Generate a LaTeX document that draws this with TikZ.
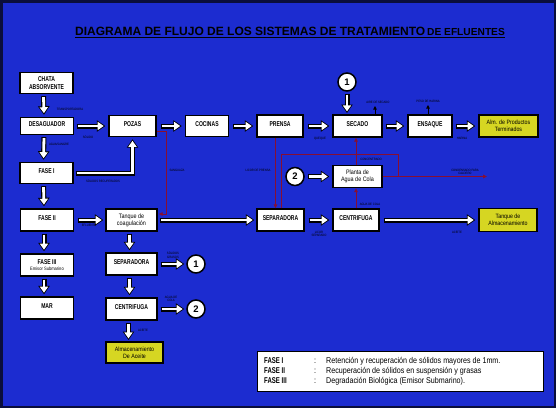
\documentclass[tikz,border=0pt]{standalone}
\usepackage{fontspec}
\setmainfont{Liberation Sans}
\newfontfamily\narrow[FakeStretch=0.85]{Liberation Sans}
\newfontfamily\narrowbold[FakeStretch=0.72]{Liberation Sans Bold}
\usetikzlibrary{arrows.meta}
\definecolor{bgblue}{RGB}{28,44,208}
\definecolor{framecol}{RGB}{10,14,60}
\definecolor{lineRed}{RGB}{135,15,50}
\definecolor{storeYellow}{RGB}{214,214,34}
\tikzset{
  box/.style={draw=black, line width=1.4pt, fill=white, inner sep=1pt, align=center,
    font=\narrowbold\fontsize{7}{7.5}\selectfont, minimum height=22pt},
  toptext/.style={text height=5pt, text depth=4pt},
  store/.style={box, fill=storeYellow, font=\narrow\fontsize{6.2}{7.2}\selectfont},
  num/.style={circle, draw=black, line width=1.5pt, fill=white, minimum size=18pt,
    inner sep=0pt, font=\bfseries\fontsize{9.5}{9.5}\selectfont},
  fat/.style={draw=white, line width=2.8pt, shorten >=1.6pt, shorten <=0.9pt,
    -{Triangle[length=6pt,width=8pt]},
    preaction={draw=black, line width=5pt, shorten >=0pt, shorten <=0pt,
      -{Triangle[length=8.5pt,width=11pt]}}},
  redline/.style={draw=lineRed, line width=0.9pt},
  redarrow/.style={redline, -{Triangle[length=4pt,width=3.5pt]}},
  smallarrow/.style={draw=black, line width=0.8pt, -{Triangle[length=3.5pt,width=3.5pt]}},
  tag/.style={font=\narrow\fontsize{3.2}{3.6}\selectfont, text=black, inner sep=0pt, align=center},
  legtext/.style={font=\narrow\fontsize{8.4}{9}\selectfont, text=black, inner sep=0pt, anchor=base west},
  legbold/.style={legtext, font=\narrowbold\fontsize{8.4}{9}\selectfont},
}
\begin{document}
\begin{tikzpicture}[x=1pt,y=-1pt]
% frame and background
\fill[framecol] (0,0) rectangle (556,408);
\fill[bgblue] (2.5,2.5) rectangle (553.5,405.5);
\useasboundingbox (0,0) rectangle (556,408);

% title
\node[anchor=base west, inner sep=0pt, text=black] (title) at (75,35)
  {\bfseries\fontsize{12}{12}\selectfont DIAGRAMA DE FLUJO DE LOS SISTEMAS DE TRATAMIENTO\,{\fontsize{10.2}{10}\selectfont DE EFLUENTES}};
\draw[black, line width=1pt] ([yshift=-2pt]title.base west) -- ([yshift=-2pt]title.base east);

% left column
\node[box, minimum width=53pt, minimum height=21pt] (chata) at (46.5,83) {CHATA\\ABSORVENTE};
\node[box, toptext, minimum width=53pt, minimum height=17pt] (desag) at (47,126) {DESAGUADOR};
\node[box, toptext, minimum width=53pt, minimum height=21pt] (fase1) at (46.5,173) {FASE I};
\node[box, toptext, minimum width=53pt] (fase2) at (47,220) {FASE II};
\node[box, minimum width=53pt] (fase3) at (47,265) {FASE III\\[-1pt]{\narrow\fontsize{4.8}{5}\selectfont Emisor Submarino}};
\node[box, toptext, minimum width=53pt] (mar) at (47,308) {MAR};

% main line
\node[box, toptext, minimum width=47pt, minimum height=21pt] (pozas) at (132.5,126) {POZAS};
\node[box, toptext, minimum width=43pt, minimum height=21pt] (cocinas) at (207,126) {COCINAS};
\node[box, toptext, minimum width=46pt] (prensa) at (280,126) {PRENSA};
\node[box, toptext, minimum width=49pt] (secado) at (357.5,126) {SECADO};
\node[box, toptext, minimum width=44pt] (ensaque) at (430,126) {ENSAQUE};
\node[store, minimum width=59pt] (almpt) at (508.5,126) {Alm. de Productos\\Terminados};

\node[num] (num1top) at (347,82) {1};
\node[num] (num2mid) at (295,176.5) {2};
\node[box, minimum width=49pt, font=\narrow\fontsize{6.4}{7.2}\selectfont] (planta) at (357.5,176.5) {Planta de\\Agua de Cola};

% oil line
\node[box, minimum width=51pt, font=\narrow\fontsize{6.4}{7.2}\selectfont] (tanque) at (131.5,220) {Tanque de\\coagulación};
\node[box, toptext, minimum width=47pt] (sepmid) at (280.5,220) {SEPARADORA};
\node[box, toptext, minimum width=46pt] (centmid) at (356,220) {CENTRIFUGA};
\node[store, minimum width=58pt, minimum height=23pt] (tanquealm) at (508,220) {Tanque de\\Almacenamiento};

\node[box, toptext, minimum width=51pt] (seplow) at (131.5,264) {SEPARADORA};
\node[num] (num1low) at (196,264) {1};
\node[box, toptext, minimum width=51pt] (centlow) at (131.5,309) {CENTRIFUGA};
\node[num] (num2low) at (196,309) {2};
\node[store, minimum width=57pt, minimum height=21pt] (almaceite) at (134.5,352.5) {Almacenamiento\\De Aceite};

% free ends
\coordinate (secin) at (347,113);
\coordinate (aceitein) at (128.5,340);
\coordinate (airout) at (375,106);
\coordinate (pesoout) at (428,105);
\coordinate (condout) at (487,176.5);

% white flow arrows
\draw[fat] ([shift={(-3,2)}]chata.south) -- ([shift={(-3,-2)}]desag.north);
\draw[fat] ([shift={(-3,2)}]desag.south) -- ([shift={(-3,-2)}]fase1.north);
\draw[fat] ([shift={(-3,2)}]fase1.south) -- ([shift={(-3,-2)}]fase2.north);
\draw[fat] ([shift={(-3,2)}]fase2.south) -- ([shift={(-3,-2)}]fase3.north);
\draw[fat] ([shift={(-3,2)}]fase3.south) -- ([shift={(-3,-2)}]mar.north);

\draw[fat] ([xshift=3pt]desag.east) -- ([xshift=-3pt]pozas.west);
\draw[fat] ([xshift=2pt]fase1.east) -| ([yshift=-2pt]pozas.south);
\draw[fat] ([xshift=4pt]pozas.east) -- ([xshift=-3pt]cocinas.west);
\draw[fat] ([xshift=4pt]cocinas.east) -- ([xshift=-3pt]prensa.west);
\draw[fat] ([xshift=4pt]prensa.east) -- ([xshift=-3pt]secado.west);
\draw[fat] ([xshift=3pt]secado.east) -- ([xshift=-3pt]ensaque.west);
\draw[fat] ([xshift=3pt]ensaque.east) -- ([xshift=-3pt]almpt.west);
\draw[fat] ([yshift=-2pt]num1top.south) -- (secin);
\draw[fat] ([xshift=3pt]num2mid.east) -- ([xshift=-3pt]planta.west);

\draw[fat] ([xshift=4pt]fase2.east) -- ([xshift=-2pt]tanque.west);
\draw[fat] ([xshift=2pt]tanque.east) -- ([xshift=-2pt]sepmid.west);
\draw[fat] ([xshift=4pt]sepmid.east) -- ([xshift=-3pt]centmid.west);
\draw[fat] ([xshift=4pt]centmid.east) -- ([xshift=-3pt]tanquealm.west);

\draw[fat] ([shift={(-2,2)}]tanque.south) -- ([shift={(-2,-2)}]seplow.north);
\draw[fat] ([shift={(-2,2)}]seplow.south) -- ([shift={(-2,-2)}]centlow.north);
\draw[fat] ([shift={(-3,2)}]centlow.south) -- (aceitein);
\draw[fat] ([xshift=3pt]seplow.east) -- ([xshift=-2pt]num1low.west);
\draw[fat] ([xshift=3pt]centlow.east) -- ([xshift=-2pt]num2low.west);

% red liquid lines
\draw[redarrow] ([yshift=-5pt]pozas.east) -| (166,214) -- ([shift={(1,-6)}]tanque.east);
\draw[redarrow] ([xshift=-4.5pt]prensa.south) -- ([xshift=-5pt]sepmid.north);
\draw[redline] ([xshift=0.5pt]sepmid.north) -- (281,154) -- (398,154) -- (398,176.5);
\draw[redarrow] (planta.east) -- (condout);
\draw[redarrow] ([xshift=-1.5pt]planta.north) -- ([xshift=-1.5pt]secado.south);
\draw[redarrow] (centmid.north) -- ([xshift=-1.5pt]planta.south);

% outputs to air
\draw[smallarrow] (secado.north -| airout) -- (airout);
\draw[smallarrow] (ensaque.north -| pesoout) -- (pesoout);

% stream labels
\node[tag] (t1) at (70,109) {TRANSPORTADORA};
\node[tag] (t2) at (88,137) {SÓLIDO};
\node[tag] (t3) at (59,144) {AGUA/SANGRE};
\node[tag] (t4) at (103,181) {SÓLIDOS RECUPERADOS};
\node[tag] (t5) at (177,170) {SANGUAZA};
\node[tag] (t6) at (258,170) {LICOR DE PRENSA};
\node[tag] (t7) at (320,139) {QUEQUE};
\node[tag] (t8) at (378,102) {AIRE DE SECADO};
\node[tag] (t9) at (428,101) {PESO DE HARINA};
\node[tag] (t10) at (462,138) {HARINA};
\node[tag] (t11) at (371,159) {CONCENTRADO};
\node[tag] (t12) at (465,172) {CONDENSADO PARA\\CALDERO};
\node[tag] (t13) at (370,204) {AGUA DE COLA};
\node[tag] (t14) at (319,234) {LICOR\\SEPARADO};
\node[tag] (t15) at (457,232) {ACEITE};
\node[tag] (t16) at (89,225) {EFLUENTE};
\node[tag] (t17) at (173,255) {SÓLIDOS\\GRASOS};
\node[tag] (t18) at (171,299) {AGUA DE\\COLA};
\node[tag] (t19) at (143,330) {ACEITE};

% legend
\node[fill=white, draw=black, line width=0.6pt, minimum width=286pt, minimum height=40pt,
  anchor=north west, inner sep=0pt] (legend) at (257,351) {};
\node[legbold] (lf1) at (264,363) {FASE I};
\node[legbold] (lf2) at (264,373) {FASE II};
\node[legbold] (lf3) at (264,383) {FASE III};
\node[legtext] (lc1) at (314,363) {:};
\node[legtext] (lc2) at (314,373) {:};
\node[legtext] (lc3) at (314,383) {:};
\node[legtext] (lt1) at (326,363) {Retención y recuperación de sólidos mayores de 1mm.};
\node[legtext] (lt2) at (326,373) {Recuperación de sólidos en suspensión y grasas};
\node[legtext] (lt3) at (326,383) {Degradación Biológica (Emisor Submarino).};
\end{tikzpicture}
\end{document}
